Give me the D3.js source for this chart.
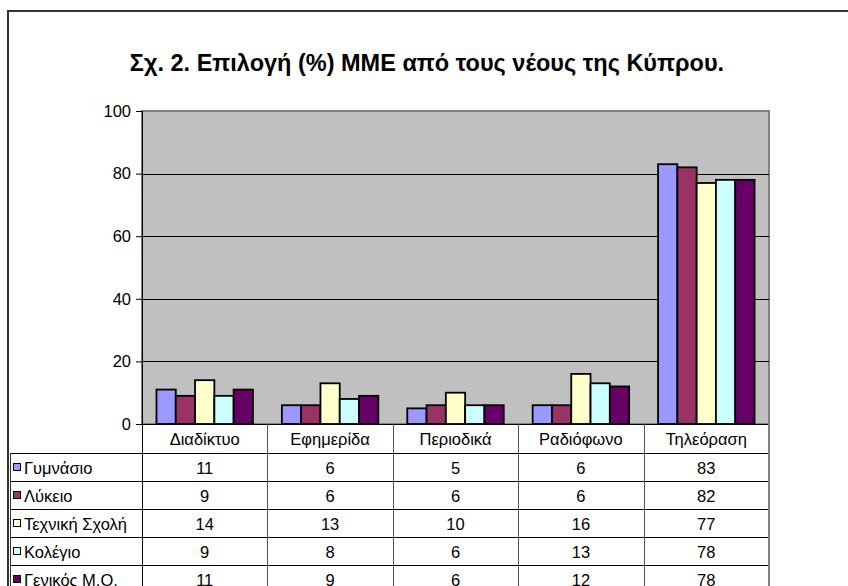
<!DOCTYPE html>
<html>
<head>
<meta charset="utf-8">
<script src="https://cdn.jsdelivr.net/npm/d3@7/dist/d3.min.js"></script>
<style>
  html, body { margin: 0; padding: 0; background: #fff; }
  svg { display: block; font-family: "Liberation Sans", Arial, sans-serif; }
</style>
</head>
<body>
<svg id="chart" width="848" height="586"></svg>
<script>
const title = "Σχ. 2. Επιλογή (%) ΜΜΕ από τους νέους της Κύπρου.";
const categories = ["Διαδίκτυο", "Εφημερίδα", "Περιοδικά", "Ραδιόφωνο", "Τηλεόραση"];
const seriesNames = ["Γυμνάσιο", "Λύκειο", "Τεχνική Σχολή", "Κολέγιο", "Γενικός Μ.Ο."];
const gymnasio = [11, 6, 5, 6, 83];
const lykeio = [9, 6, 6, 6, 82];
const techniki = [14, 13, 10, 16, 77];
const kollegio = [9, 8, 6, 13, 78];
const genikos = [11, 9, 6, 12, 78];
const seriesValues = [gymnasio, lykeio, techniki, kollegio, genikos];
const seriesColors = ["#9999FF", "#993366", "#FFFFCC", "#CCFFFF", "#660066"];
const yTicks = [0, 20, 40, 60, 80, 100];

const svg = d3.select("#chart");
const FS = 16.5;

// layout
const plotLeft = 142, plotRight = 769, plotTop = 111, plotBottom = 424;
const tableLeft = 10;
const headerH = 29, rowH = 28;

// outer frame
svg.append("rect")
  .attr("x", 8).attr("y", 11).attr("width", 860).attr("height", 600)
  .attr("fill", "#fff").attr("stroke", "#333").attr("stroke-width", 2);

// title
svg.append("text")
  .attr("x", 427).attr("y", 71)
  .attr("text-anchor", "middle")
  .attr("font-size", 23.5).attr("font-weight", "bold")
  .attr("fill", "#000")
  .text(title);

const x0 = d3.scaleBand().domain(categories).range([plotLeft, plotRight]).padding(0);
const x1 = d3.scaleBand().domain(seriesNames).range([0, x0.bandwidth()])
  .paddingInner(0).paddingOuter(0.75);
const y = d3.scaleLinear().domain([0, 100]).range([plotBottom, plotTop]);

// plot background
svg.append("rect")
  .attr("x", plotLeft).attr("y", plotTop)
  .attr("width", plotRight - plotLeft).attr("height", plotBottom - plotTop)
  .attr("fill", "#C0C0C0").attr("stroke", "#808080").attr("stroke-width", 2);

// gridlines
svg.append("g").selectAll("line")
  .data(yTicks.filter(t => t > 0 && t < 100))
  .join("line")
  .attr("x1", plotLeft).attr("x2", plotRight)
  .attr("y1", d => Math.round(y(d)) + 0.5).attr("y2", d => Math.round(y(d)) + 0.5)
  .attr("stroke", "#000").attr("stroke-width", 1);

// bars
const groups = svg.append("g").selectAll("g")
  .data(categories)
  .join("g")
  .attr("transform", d => `translate(${x0(d)},0)`);

groups.selectAll("rect")
  .data((c, ci) => seriesNames.map((s, si) => ({ s, si, v: seriesValues[si][ci] })))
  .join("rect")
  .attr("x", d => x1(d.s))
  .attr("y", d => y(d.v))
  .attr("width", x1.bandwidth())
  .attr("height", d => y(0) - y(d.v))
  .attr("fill", d => seriesColors[d.si])
  .attr("stroke", "#000").attr("stroke-width", 1.8);

// y axis
const yAxis = d3.axisLeft(y).tickValues(yTicks).tickSize(6).tickPadding(5);
const yg = svg.append("g").attr("transform", `translate(${plotLeft},0)`).call(yAxis);
yg.attr("font-size", FS).attr("font-family", null);
yg.select(".domain").attr("stroke", "#000");
yg.selectAll(".tick line").attr("stroke", "#000");
yg.selectAll(".tick text").attr("fill", "#000");

// x axis line at 0
svg.append("line")
  .attr("x1", plotLeft).attr("x2", plotRight)
  .attr("y1", plotBottom + 0.5).attr("y2", plotBottom + 0.5)
  .attr("stroke", "#000").attr("stroke-width", 1);

// data table
const rowTop = i => plotBottom + headerH + i * rowH;
const tableBottom = rowTop(seriesNames.length);

// header labels
svg.append("g").selectAll("text")
  .data(categories)
  .join("text")
  .attr("x", d => x0(d) + x0.bandwidth() / 2)
  .attr("y", plotBottom + headerH / 2 + 1)
  .attr("dy", "0.35em")
  .attr("text-anchor", "middle")
  .attr("font-size", FS).attr("fill", "#000")
  .text(d => d);

// horizontal lines
svg.append("g").selectAll("line")
  .data(d3.range(seriesNames.length + 1))
  .join("line")
  .attr("x1", tableLeft).attr("x2", plotRight)
  .attr("y1", i => rowTop(i) + 0.5).attr("y2", i => rowTop(i) + 0.5)
  .attr("stroke", "#000").attr("stroke-width", 1);

// vertical lines between categories
svg.append("g").selectAll("line")
  .data(categories.slice(1))
  .join("line")
  .attr("x1", d => Math.round(x0(d)) + 0.5).attr("x2", d => Math.round(x0(d)) + 0.5)
  .attr("y1", plotBottom).attr("y2", tableBottom)
  .attr("stroke", "#555").attr("stroke-width", 1);
// y axis continuation
svg.append("line")
  .attr("x1", plotLeft + 0.5).attr("x2", plotLeft + 0.5)
  .attr("y1", plotBottom).attr("y2", tableBottom)
  .attr("stroke", "#000").attr("stroke-width", 1);
// right border
svg.append("line")
  .attr("x1", plotRight).attr("x2", plotRight)
  .attr("y1", plotBottom).attr("y2", tableBottom)
  .attr("stroke", "#808080").attr("stroke-width", 2);
// left border
svg.append("line")
  .attr("x1", tableLeft + 0.5).attr("x2", tableLeft + 0.5)
  .attr("y1", rowTop(0)).attr("y2", tableBottom)
  .attr("stroke", "#333").attr("stroke-width", 1);

// rows
const rows = svg.append("g").selectAll("g")
  .data(seriesNames)
  .join("g")
  .attr("transform", (d, i) => `translate(0,${rowTop(i) + rowH / 2})`);

rows.append("rect")
  .attr("x", 13.5).attr("y", -3.5).attr("width", 7).attr("height", 7)
  .attr("fill", (d, i) => seriesColors[i])
  .attr("stroke", "#000").attr("stroke-width", 1);

rows.append("text")
  .attr("x", 24).attr("y", 1).attr("dy", "0.35em")
  .attr("font-size", FS).attr("fill", "#000")
  .text(d => d);

rows.each(function (s, si) {
  d3.select(this).selectAll("text.val")
    .data(categories)
    .join("text")
    .attr("class", "val")
    .attr("x", c => x0(c) + x0.bandwidth() / 2)
    .attr("y", 1)
    .attr("dy", "0.35em")
    .attr("text-anchor", "middle")
    .attr("font-size", FS).attr("fill", "#000")
    .text((c, ci) => seriesValues[si][ci]);
});
</script>
</body>
</html>
